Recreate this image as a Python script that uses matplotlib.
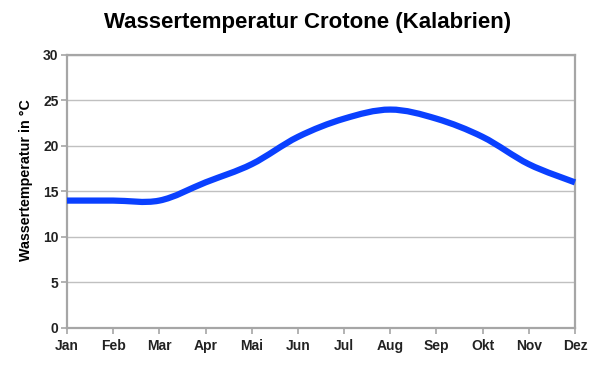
import matplotlib
matplotlib.use("Agg")
import matplotlib.pyplot as plt
from matplotlib.path import Path
from matplotlib.patches import PathPatch
import numpy as np

months = ["Jan", "Feb", "Mar", "Apr", "Mai", "Jun", "Jul", "Aug", "Sep", "Okt", "Nov", "Dez"]
temps = [14, 14, 14, 16, 18, 21, 23, 24, 23, 21, 18, 16]
yticks = [0, 5, 10, 15, 20, 25, 30]

plt.rcParams['font.family'] = ['Liberation Sans', 'DejaVu Sans']

fig = plt.figure(figsize=(5.98, 3.74), dpi=100)
ax = fig.add_axes([0.112, 0.123, 0.8495, 0.730])

x = np.arange(len(months), dtype=float)
y = np.array(temps, dtype=float)

# smooth curve via Catmull-Rom -> cubic Bezier path (drawn in data coords)
verts = [(x[0], y[0])]
codes = [Path.MOVETO]
t = 0.5
for i in range(len(x) - 1):
    p0 = (x[i - 1], y[i - 1]) if i > 0 else (x[i], y[i])
    p1 = (x[i], y[i])
    p2 = (x[i + 1], y[i + 1])
    p3 = (x[i + 2], y[i + 2]) if i + 2 < len(x) else (x[i + 1], y[i + 1])
    c1 = (p1[0] + (p2[0] - p0[0]) * t / 3, p1[1] + (p2[1] - p0[1]) * t / 3)
    c2 = (p2[0] - (p3[0] - p1[0]) * t / 3, p2[1] - (p3[1] - p1[1]) * t / 3)
    verts += [c1, c2, p2]
    codes += [Path.CURVE4, Path.CURVE4, Path.CURVE4]

patch = PathPatch(Path(verts, codes), facecolor='none', edgecolor='#0a40ff',
                  lw=4.5, capstyle='butt', joinstyle='round', zorder=3, clip_on=False)
ax.add_patch(patch)

ax.set_xlim(0, len(months) - 1)
ax.set_ylim(0, 30)
ax.set_xticks(x)
ax.set_xticklabels(months, fontweight='bold', fontsize=10)
ax.set_yticks(yticks)
ax.set_yticklabels([str(v) for v in yticks], fontweight='bold', fontsize=10)

ax.yaxis.grid(True, color='#c0c0c0', lw=1.0)
ax.set_axisbelow(True)
for s in ax.spines.values():
    s.set_color('#a6a6a6')
    s.set_linewidth(1.6)
ax.tick_params(axis='both', colors='#a6a6a6', length=4, width=1.2, labelcolor='#222222')
ax.tick_params(axis='x', pad=4)
ax.tick_params(axis='y', pad=2)

ax.set_ylabel("Wassertemperatur in °C", fontweight='bold', fontsize=10.3)
ax.yaxis.set_label_coords(-0.066, 0.54)
fig.text(0.515, 0.94, "Wassertemperatur Crotone (Kalabrien)", ha='center', va='center',
         fontweight='bold', fontsize=16)

fig.savefig("out.png", dpi=100)
